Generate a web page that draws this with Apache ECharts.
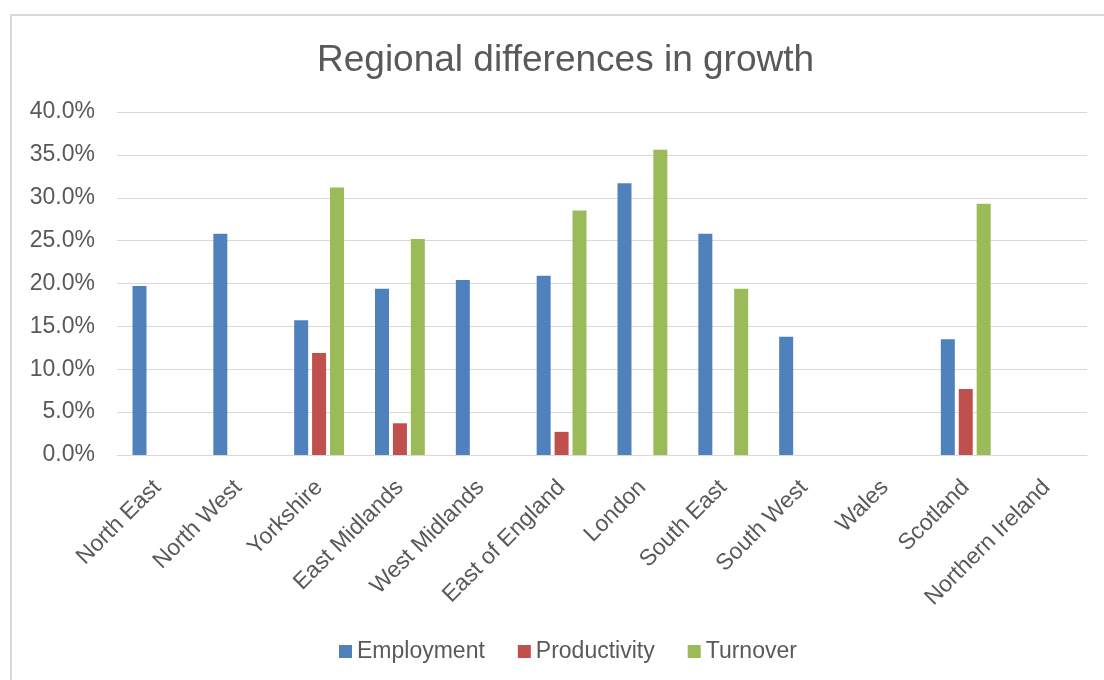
<!DOCTYPE html>
<html>
<head>
<meta charset="utf-8">
<script src="https://cdn.jsdelivr.net/npm/echarts@6/dist/echarts.min.js"></script>
<style>
html,body{margin:0;padding:0;background:#fff;}
#chart{width:1104px;height:680px;}
</style>
</head>
<body>
<div id="chart"></div>
<script>
const categories = ["North East","North West","Yorkshire","East Midlands","West Midlands","East of England","London","South East","South West","Wales","Scotland","Northern Ireland"];
const employment = [19.7, 25.8, 15.7, 19.4, 20.4, 20.9, 31.7, 25.8, 13.8, null, 13.5, null];
const productivity = [null, null, 11.9, 3.7, null, 2.7, null, null, null, null, 7.7, null];
const turnover = [null, null, 31.2, 25.2, null, 28.5, 35.6, 19.4, null, null, 29.3, null];
const yTicks = [0, 5, 10, 15, 20, 25, 30, 35, 40];

const chart = echarts.init(document.getElementById('chart'));
const font = '"Liberation Sans", Arial, sans-serif';
chart.setOption({
  animation: false,
  backgroundColor: '#fff',
  graphic: [{
    type: 'rect',
    shape: {x: 11, y: 15, width: 1200, height: 1000},
    style: {fill: 'none', stroke: '#d9d9d9', lineWidth: 2},
    silent: true
  }],
  title: {
    text: 'Regional differences in growth',
    left: 312,
    top: 37,
    textStyle: {fontFamily: font, fontSize: 37, fontWeight: 'normal', color: '#595959'}
  },
  legend: {
    bottom: 12,
    left: 334,
    itemWidth: 13,
    itemHeight: 13,
    itemGap: 33,
    icon: 'rect',
    textStyle: {fontFamily: font, fontSize: 23, color: '#595959'},
    data: ['Employment','Productivity','Turnover']
  },
  grid: {left: 117, right: 17, top: 112, bottom: 225, containLabel: false},
  xAxis: {
    type: 'category',
    data: categories,
    axisLine: {show: true, lineStyle: {color: '#d9d9d9', width: 1}},
    axisTick: {show: false},
    axisLabel: {rotate: 45, fontFamily: font, fontSize: 23, color: '#595959', margin: 29, interval: 0}
  },
  yAxis: {
    type: 'value',
    min: yTicks[0],
    max: yTicks[yTicks.length - 1],
    interval: 5,
    axisLine: {show: false},
    axisTick: {show: false},
    splitLine: {lineStyle: {color: '#d9d9d9', width: 1}},
    axisLabel: {fontFamily: font, fontSize: 23, color: '#595959', margin: 22,
      formatter: v => v.toFixed(1) + '%'}
  },
  series: [
    {name: 'Employment', type: 'bar', data: employment, barWidth: 14, barGap: '28%', itemStyle: {color: '#4f81bd'}},
    {name: 'Productivity', type: 'bar', data: productivity, barWidth: 14, barGap: '28%', itemStyle: {color: '#c0504d'}},
    {name: 'Turnover', type: 'bar', data: turnover, barWidth: 14, barGap: '28%', itemStyle: {color: '#9bbb59'}}
  ]
});
</script>
</body>
</html>
